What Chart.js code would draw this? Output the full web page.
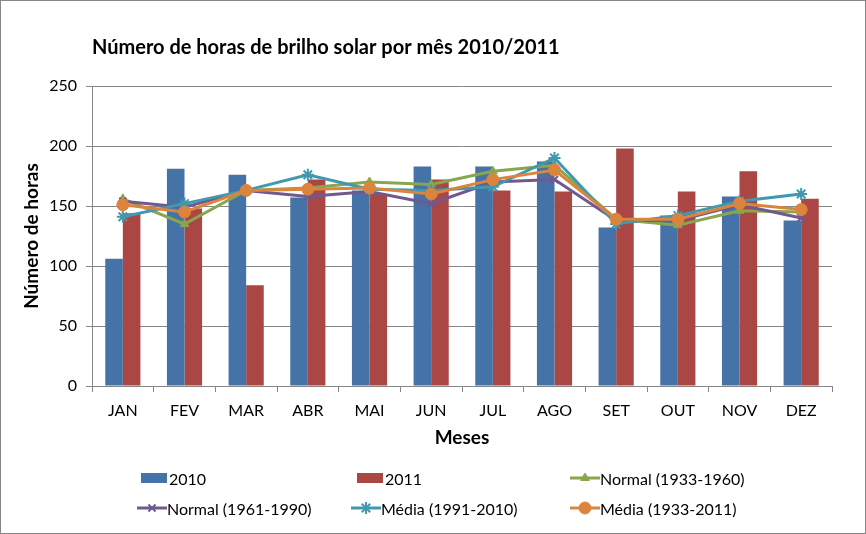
<!DOCTYPE html>
<html>
<head>
<meta charset="utf-8">
<script src="https://cdn.jsdelivr.net/npm/chart.js@4.4.1/dist/chart.umd.min.js"></script>
<style>
  html, body { margin: 0; padding: 0; background: #fff; }
  #wrap { position: relative; width: 866px; height: 534px; }
  #frame { position: absolute; left: 0; top: 0; width: 866px; height: 534px; box-sizing: border-box; border: 1px solid #868686; pointer-events: none; }
  #legend { position: absolute; left: 0; top: 0; font: 16px Lato, sans-serif; color: #000; }
  .item { position: absolute; display: flex; align-items: center; height: 20px; white-space: nowrap; transform: translateY(-10px); }
</style>
</head>
<body>
<div id="wrap">
  <canvas id="sunChart" width="866" height="534"></canvas>
  <div id="legend"></div>
  <div id="frame"></div>
</div>
<script>
const months = ["JAN", "FEV", "MAR", "ABR", "MAI", "JUN", "JUL", "AGO", "SET", "OUT", "NOV", "DEZ"];
const hours2010 = [106, 181, 176, 157, 163, 183, 183, 187, 132, 142, 158, 138];
const hours2011 = [144, 148, 84, 172, 160, 172, 163, 162, 198, 162, 179, 156];
const normal1933_1960 = [156, 135, 163, 165, 170, 168, 179, 184, 139, 134, 146, 145];
const normal1961_1990 = [154, 149, 163, 158, 162, 152, 170, 172, 138, 138, 151, 140];
const media1991_2010 = [141, 152, 163, 176, 164, 163, 166, 190, 135, 142, 154, 160];
const media1933_2011 = [151, 145, 163, 164, 165, 160, 172, 180, 139, 139, 152, 147];
const yMax = 250;
const yStep = 50;

const FONT = "Lato, sans-serif";
const GRID = "#868686";
const colors = {
  y2010: "#4572A7",
  y2011: "#AA4643",
  green: "#89A54E",
  purple: "#71588F",
  cyan: "#4198AF",
  orange: "#DB843D",
};

function lineSet(label, data, color, style, radius, order) {
  return {
    type: "line",
    label,
    data,
    borderColor: color,
    backgroundColor: color,
    borderWidth: 3,
    pointStyle: style,
    pointRadius: radius,
    pointBorderWidth: style === "circle" || style === "triangle" ? 1 : 2,
    pointBackgroundColor: color,
    pointBorderColor: color,
    tension: 0,
    order,
  };
}

const ctx = document.getElementById("sunChart").getContext("2d");
const chart = new Chart(ctx, {
  type: "bar",
  data: {
    labels: months,
    datasets: [
      { label: "2010", data: hours2010, backgroundColor: colors.y2010, order: 10 },
      { label: "2011", data: hours2011, backgroundColor: colors.y2011, order: 10 },
      lineSet("Normal (1933-1960)", normal1933_1960, colors.green, "triangle", 5, 4),
      lineSet("Normal (1961-1990)", normal1961_1990, colors.purple, "crossRot", 5, 3),
      lineSet("Média (1991-2010)", media1991_2010, colors.cyan, "star", 6, 2),
      lineSet("Média (1933-2011)", media1933_2011, colors.orange, "circle", 6, 1),
    ],
  },
  options: {
    responsive: false,
    animation: false,
    categoryPercentage: 0.57,
    barPercentage: 1.0,
    layout: { padding: { top: 0, left: 0, right: 34, bottom: 78 } },
    plugins: {
      legend: { display: false },
      tooltip: { enabled: false },
      title: {
        display: true,
        text: "Número de horas de brilho solar por mês 2010/2011",
        align: "start",
        fullSize: false,
        color: "#000",
        font: { family: FONT, size: 20, weight: "bold" },
        padding: { top: 36, bottom: 26 },
      },
    },
    scales: {
      x: {
        afterFit: (s) => { s.height = 70; },
        grid: { drawOnChartArea: false, drawTicks: true, tickLength: 6, color: GRID, offset: true },
        border: { color: GRID },
        ticks: { color: "#000", padding: 9, font: { family: FONT, size: 16 } },
        title: {
          display: true,
          text: "Meses",
          color: "#000",
          font: { family: FONT, size: 19, weight: "bold" },
          padding: { top: 0, bottom: 6.6 },
        },
      },
      y: {
        min: 0,
        max: yMax,
        afterFit: (s) => { s.width = 92; },
        grid: { color: GRID, tickLength: 6 },
        border: { color: GRID },
        ticks: { stepSize: yStep, color: "#000", padding: 9, font: { family: FONT, size: 16 } },
        title: {
          display: true,
          text: "Número de horas",
          color: "#000",
          font: { family: FONT, size: 19, weight: "bold" },
          padding: { top: 20.6, bottom: 0 },
        },
      },
    },
  },
});

// Excel-style legend: 3 columns x 2 rows, built from the datasets
const slots = [[139, 478], [355, 478], [570, 478], [137, 508], [351, 508], [570, 508]];
const legendEl = document.getElementById("legend");
chart.data.datasets.forEach((ds, i) => {
  const item = document.createElement("div");
  item.className = "item";
  item.style.left = slots[i][0] + "px";
  item.style.top = slots[i][1] + "px";
  const icon = document.createElement("canvas");
  icon.width = 30;
  icon.height = 20;
  const c = icon.getContext("2d");
  if (ds.type === "line") {
    c.strokeStyle = ds.borderColor;
    c.fillStyle = ds.backgroundColor;
    c.lineWidth = 3;
    c.beginPath();
    c.moveTo(0, 10);
    c.lineTo(30, 10);
    c.stroke();
    c.lineWidth = ds.pointBorderWidth;
    Chart.helpers.drawPoint(c, {
      pointStyle: ds.pointStyle,
      radius: ds.pointRadius,
      borderWidth: ds.pointBorderWidth,
      rotation: 0,
    }, 15, 10);
  } else {
    c.fillStyle = ds.backgroundColor;
    c.fillRect(2, 5, 26, 10);
  }
  const txt = document.createElement("span");
  txt.textContent = ds.label;
  item.appendChild(icon);
  item.appendChild(txt);
  legendEl.appendChild(item);
});
</script>
</body>
</html>
